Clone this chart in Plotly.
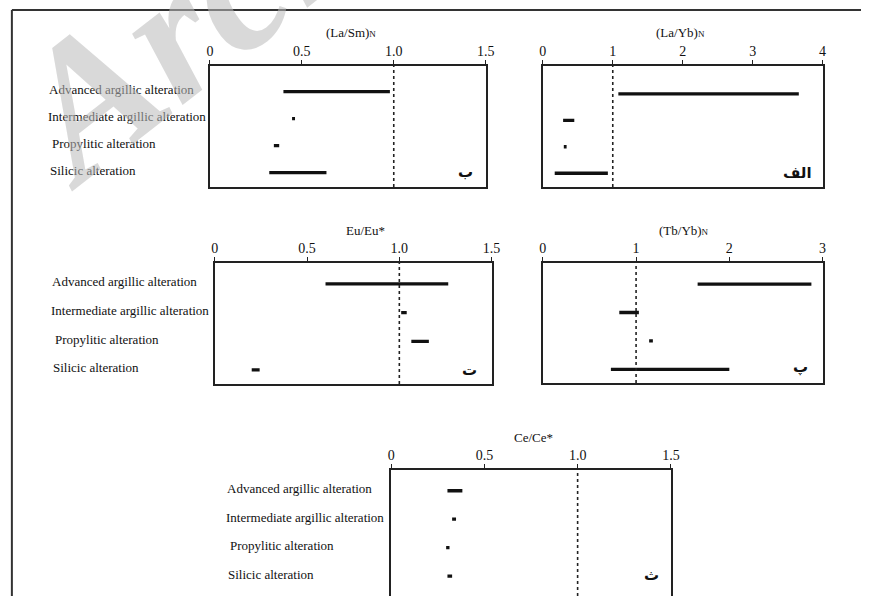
import plotly.graph_objects as go

# ---------------- data ----------------
categories = ["Advanced argillic alteration", "Intermediate argillic alteration",
              "Propylitic alteration", "Silicic alteration"]

la_sm_low = [0.40, 0.447, 0.348, 0.323]
la_sm_high = [0.979, 0.463, 0.377, 0.634]

la_yb_low = [1.08, 0.29, 0.30, 0.17]
la_yb_high = [3.66, 0.45, 0.34, 0.93]

eu_low = [0.60, 1.01, 1.065, 0.20]
eu_high = [1.265, 1.04, 1.16, 0.243]

tb_yb_low = [1.66, 0.82, 1.14, 0.73]
tb_yb_high = [2.88, 1.03, 1.18, 2.00]

ce_low = [0.302, 0.327, 0.295, 0.302]
ce_high = [0.382, 0.348, 0.313, 0.327]

ticks_15 = [0, 0.5, 1.0, 1.5]
ticks_15_text = ["0", "0.5", "1.0", "1.5"]
ticks_4 = [0, 1, 2, 3, 4]
ticks_4_text = ["0", "1", "2", "3", "4"]
ticks_3 = [0, 1, 2, 3]
ticks_3_text = ["0", "1", "2", "3"]

titles = ["(La/Sm)<span style='font-size:9px'>N</span>",
          "(La/Yb)<span style='font-size:9px'>N</span>",
          "Eu/Eu*",
          "(Tb/Yb)<span style='font-size:9px'>N</span>",
          "Ce/Ce*"]
panel_letters = ["ب", "الف", "ت", "پ", "ث"]

# ---------------- layout helpers ----------------
W, H = 870, 596


def fx(p):
    return p / W


def fy(p):
    return 1 - p / H


panels = [
    dict(low=la_sm_low, high=la_sm_high, tv=ticks_15, tt=ticks_15_text, xr=[0, 1.5],
         box=(209, 489, 66, 187), yr=[3.53, -0.95], lab_x=43, show_labels=True,
         letter_xy=(468, 172), title_dx=3),
    dict(low=la_yb_low, high=la_yb_high, tv=ticks_4, tt=ticks_4_text, xr=[0, 4],
         box=(547, 831, 66, 187), yr=[3.52, -1.05], lab_x=None, show_labels=False,
         letter_xy=(806, 173), title_dx=-2),
    dict(low=eu_low, high=eu_high, tv=ticks_15, tt=ticks_15_text, xr=[0, 1.5],
         box=(214, 495, 263, 384), yr=[3.49, -0.73], lab_x=46, show_labels=True,
         letter_xy=(473, 370), title_dx=12),
    dict(low=tb_yb_low, high=tb_yb_high, tv=ticks_3, tt=ticks_3_text, xr=[0, 3],
         box=(547, 831, 263, 383), yr=[3.48, -0.74], lab_x=None, show_labels=False,
         letter_xy=(809, 367), title_dx=1),
    dict(low=ce_low, high=ce_high, tv=ticks_15, tt=ticks_15_text, xr=[0, 1.5],
         box=(393, 677, 470, 596), yr=[3.7, -0.73], lab_x=223, show_labels=True,
         letter_xy=(657, 575), title_dx=3),
]
label_indent = [1, 0, 4, 2]

fig = go.Figure()
annotations = []
shapes = []
serif = "Liberation Serif, Times New Roman, serif"

for i, p in enumerate(panels):
    n = i + 1
    xa = "x" if n == 1 else f"x{n}"
    ya = "y" if n == 1 else f"y{n}"
    x0, x1, y0, y1 = p["box"]
    last = (i == 4)
    for r, cat in enumerate(categories):
        fig.add_trace(go.Scatter(
            x=[p["low"][r], p["high"][r]], y=[r, r], mode="lines",
            line=dict(color="#111", width=3.3), xaxis=xa, yaxis=ya,
            showlegend=False, hoverinfo="skip"))
        if p["show_labels"]:
            annotations.append(dict(
                text=cat, x=fx(p["lab_x"] + label_indent[r]), xref="paper",
                y=r, yref=ya, xanchor="left", yanchor="middle", showarrow=False,
                yshift=2, font=dict(family=serif, size=13, color="#111")))
    xkey = "xaxis" if n == 1 else f"xaxis{n}"
    ykey = "yaxis" if n == 1 else f"yaxis{n}"
    fig.update_layout(**{
        xkey: dict(domain=[fx(x0), fx(x1)], range=p["xr"], side="top",
                   anchor=ya, tickvals=p["tv"], ticktext=p["tt"],
                   showgrid=False, zeroline=False, showline=True,
                   mirror=(not last), linecolor="#222", linewidth=1.5,
                   ticks="outside", ticklen=4, tickwidth=1.2, tickcolor="#222",
                   ticklabelstandoff=-1,
                   tickfont=dict(family=serif, size=14, color="#111")),
        ykey: dict(domain=[max(0, fy(y1)), fy(y0)], range=p["yr"], anchor=xa,
                   showgrid=False, zeroline=False, showticklabels=False,
                   showline=True, mirror=True, linecolor="#222", linewidth=1.5,
                   ticks=""),
    })
    # reference line at 1
    shapes.append(dict(type="line", xref=xa, yref=f"{ya} domain", x0=1, x1=1,
                       y0=0, y1=1, line=dict(color="#222", width=1.6, dash="dot")))
    # title
    annotations.append(dict(text=titles[i], xref="paper", yref="paper",
                            x=fx((x0 + x1) / 2 + p["title_dx"]), y=fy(y0 - 33),
                            xanchor="center", yanchor="middle", showarrow=False,
                            font=dict(family=serif, size=13, color="#111")))
    # panel letter
    lx, ly = p["letter_xy"]
    annotations.append(dict(text="<b>" + panel_letters[i] + "</b>", xref="paper",
                            yref="paper", x=fx(lx), y=fy(ly), xanchor="center",
                            yanchor="middle", showarrow=False,
                            font=dict(family="DejaVu Sans", size=15, color="#111")))

# outer frame
shapes.append(dict(type="line", xref="paper", yref="paper", x0=fx(8), x1=1.0,
                   y0=fy(10), y1=fy(10), line=dict(color="#333", width=2)))
shapes.append(dict(type="line", xref="paper", yref="paper", x0=fx(8), x1=fx(8),
                   y0=fy(10), y1=0, line=dict(color="#333", width=2)))

# watermark
annotations.append(dict(text="<b><i>Archive of SID</i></b>", xref="paper", yref="paper",
                        x=fx(506), y=fy(-226), xanchor="center", yanchor="middle",
                        textangle=-38, showarrow=False,
                        font=dict(family=serif, size=190, color="rgba(185,185,185,0.55)")))

fig.update_layout(width=W, height=H, margin=dict(l=0, r=0, t=0, b=0),
                  paper_bgcolor="white", plot_bgcolor="white",
                  annotations=annotations, shapes=shapes, showlegend=False)

fig.write_html("out.html", config={"displayModeBar": False},
               post_script="document.body.style.margin='0px';"
                           "document.body.style.overflow='hidden';")
